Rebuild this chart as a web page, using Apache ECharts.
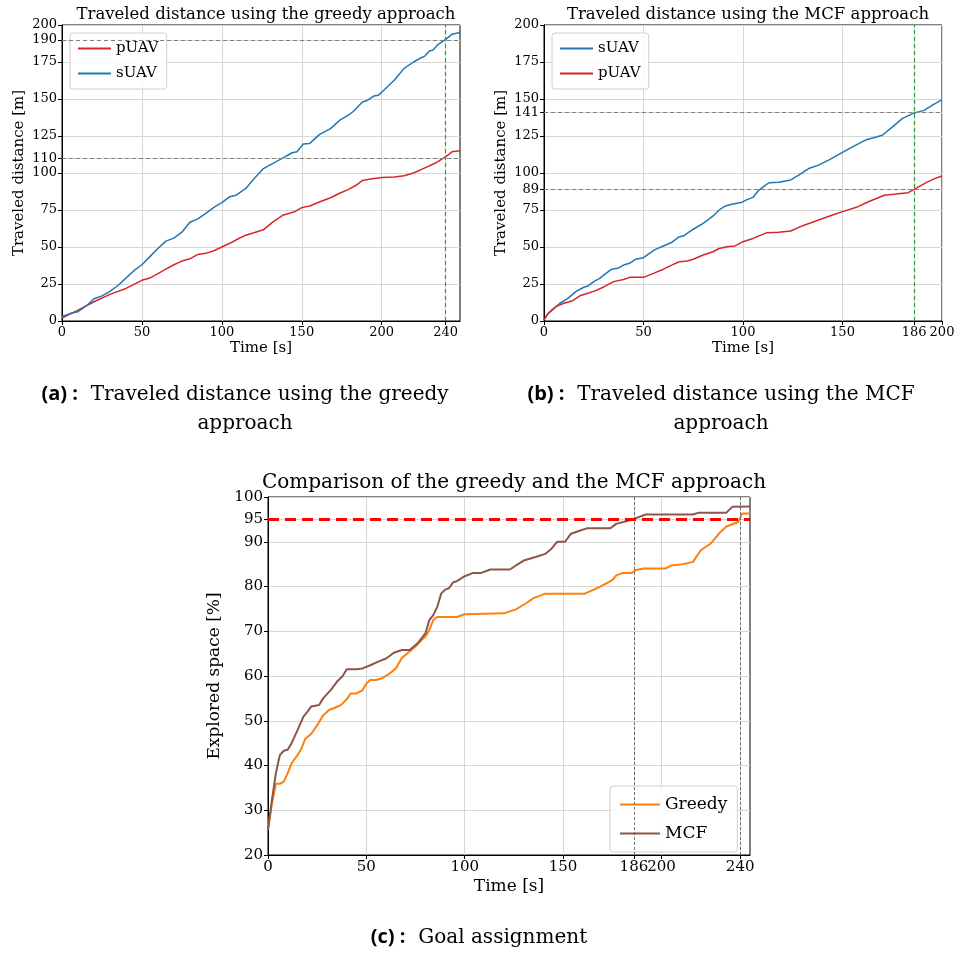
<!DOCTYPE html>
<html>
<head>
<meta charset="utf-8">
<script src="https://cdn.jsdelivr.net/npm/echarts@6/dist/echarts.min.js"></script>
<style>
html,body{margin:0;padding:0;background:#fff;}
#main{width:961px;height:954px;}
</style>
</head>
<body>
<div id="main"></div>
<script>
// (a) greedy approach - traveled distance
var greedyPTime = [0,10,20,30,40,50,55,60,65,70,75,80,85,90,95,100,105,110,115,126,132,138,145,150,155,161,168,174,179,184,188,193,200,208,214,220,226,233,240,244,249];
var greedyPDist = [2,7.4,13,18,22,27.5,29,32,35,38,40.5,42,45,45.7,47.5,50,52.5,55.4,58,61.6,67,71.4,73.6,76.6,77.7,80.4,83.3,86.5,88.8,91.7,95,96,96.9,97.3,98.2,100,103,106.4,110.9,114.3,115];
var greedySTime = [0,5,10,15,20,25,30,35,40,45,50,55,60,65,70,75,80,85,90,95,100,105,109,115,120,126,132,138,144,147,151,155,161,168,174,179,182,188,191,195,198,201,208,214,220,224,227,230,232,235,240,244,249];
var greedySDist = [3,5,6.3,10,15,17,20,24,29,34,38,43.5,49,54,56,60,66.7,69,72.7,76.8,80,84,85,89.6,96,103,106.5,110,113.7,114.4,119.6,120,125.9,130,135.9,139,141.4,148,149,152,152.6,155.6,162.8,170.7,175,177.5,179,182.6,183,186.5,190.3,193.7,195];

// (b) MCF approach - traveled distance
var mcfSTime = [0,2,5,8,12,16,20,22,25,28,30,34,37,40,43,46,50,53,56,60,64,68,70,75,80,85,88,91,95,99,102,105,108,113,118,124,128,133,138,143,150,155,162,167,170,175,180,186,191,195,200];
var mcfSDist = [0.7,5,8.5,12,15.3,19.8,22.8,23.6,26.6,28.8,31,35,35.6,37.8,39,41.7,42.8,45.7,48.4,50.7,53,57,57.4,62,66,71,75,77.7,79,80,82,83.5,88.5,93.4,93.8,95.3,98.5,103,105.3,108.7,113.9,117.7,122.5,124.3,125.5,131,136.7,140.6,142.3,145.7,149.6];
var mcfPTime = [0,2,6,10,14,18,22,26,30,35,40,43,50,55,60,65,68,72,75,80,85,88,92,96,100,105,112,118,124,130,138,145,150,157,163,171,177,183,186,192,196,200];
var mcfPDist = [0.7,5,9.7,12,13.5,17,18.7,20.5,23,26.6,28,29.5,29.5,32.2,35,38.3,40,40.5,41.7,44.6,46.8,49,50.2,50.7,53.6,55.8,59.7,60,60.8,64.4,68.2,71.6,73.9,76.8,80.6,85,85.8,86.7,89,93.5,96,98];

// (c) explored space
var cmpGreedyTime = [0,2,4,6,8,10,12,15,17,19,22,25,28,31,34,37,40,42,45,48,50,52,55,58,62,65,68,72,75,78,80,82,84,86,96,100,120,126,131,135,141,161,167,172,175,177,180,185,187,191,202,205,211,216,220,225,230,233,239,241,245];
var cmpGreedyVal = [25.6,31.5,35.9,35.9,36.4,38.3,40.5,42.3,43.8,46,47.1,49,51.2,52.4,52.9,53.5,54.8,56.1,56.1,56.8,58.3,59.1,59.1,59.5,60.6,61.7,64,65.5,66.6,68,68.8,70.3,72.5,73.2,73.2,73.8,74,74.9,76.2,77.4,78.4,78.4,79.6,80.7,81.4,82.5,83,83,83.7,84,84,84.7,85,85.5,88.1,89.6,92.2,93.4,94.4,96.3,96.3];
var cmpMcfTime = [0,2,4,6,8,10,12,15,18,20,22,26,28,32,35,38,40,45,48,52,56,60,64,68,72,76,80,82,84,86,88,90,92,94,96,100,104,108,113,123,126,130,136,141,144,147,151,154,158,162,174,177,182,186,192,216,219,233,236,245];
var cmpMcfVal = [25.6,32.3,38.3,42.3,43.3,43.5,45,47.9,50.9,52,53.2,53.5,55,56.9,58.7,60,61.5,61.5,61.7,62.4,63.2,63.9,65.2,65.8,65.8,67.3,69.5,72.5,73.6,75.4,78.4,79.3,79.6,80.9,81.2,82.3,83,83,83.8,83.8,84.7,85.8,86.6,87.3,88.4,90,90,91.8,92.4,93,93,94,94.6,95.1,96.1,96.1,96.5,96.5,97.8,97.9];

// tick labels
var ticksYA = [0,25,50,75,100,110,125,150,175,190,200];
var ticksXA = [0,50,100,150,200,240];
var ticksYB = [0,25,50,75,89,100,125,141,150,175,200];
var ticksXB = [0,50,100,150,186,200];
var ticksYC = [20,30,40,50,60,70,80,90,95,100];
var ticksXC = [0,50,100,150,186,200,240];

var serif = 'DejaVu Serif';
var BLUE = '#1f77b4', RED = '#d62728', ORANGE = '#ff7f0e', BROWN = '#8c564b', GREEN = '#2ca02c';

function zip(t, v){
	var out = [];
	for (var i = 0; i < t.length; i++) out.push([t[i], v[i]]);
	return out;
}

function xAx(idx, max, interval, ticks, fs, gap){
	return {
		type: 'value', gridIndex: idx, min: 0, max: max, interval: interval,
		name: 'Time [s]', nameLocation: 'middle', nameGap: gap,
		nameTextStyle: {fontFamily: serif, fontSize: fs + 2, color: '#000'},
		axisLine: {show: true, lineStyle: {color: '#000', width: 1}},
		axisTick: {show: true, length: 4, customValues: ticks, lineStyle: {color: '#000'}},
		axisLabel: {customValues: ticks, fontFamily: serif, fontSize: fs, color: '#000', margin: 5, hideOverlap: false},
		splitLine: {show: true, lineStyle: {color: '#d6d6d6', width: 1}}
	};
}
function yAx(idx, min, max, interval, ticks, name, fs, gap){
	return {
		type: 'value', gridIndex: idx, min: min, max: max, interval: interval,
		name: name, nameLocation: 'middle', nameGap: gap,
		nameTextStyle: {fontFamily: serif, fontSize: fs + 2, color: '#000'},
		axisLine: {show: true, lineStyle: {color: '#000', width: 1}},
		axisTick: {show: true, length: 4, customValues: ticks, lineStyle: {color: '#000'}},
		axisLabel: {customValues: ticks, fontFamily: serif, fontSize: fs, color: '#000', margin: 5},
		splitLine: {show: true, lineStyle: {color: '#d6d6d6', width: 1}}
	};
}
function line(name, data, xi, color, width, marks){
	var s = {
		name: name, type: 'line', xAxisIndex: xi, yAxisIndex: xi,
		data: data, symbol: 'none', smooth: false,
		lineStyle: {color: color, width: width}, itemStyle: {color: color}
	};
	if (marks) {
		s.markLine = {silent: true, symbol: 'none', label: {show: false}, animation: false, data: marks};
	}
	return s;
}
function hLine(v, color, width, type){ return {yAxis: v, lineStyle: {color: color, width: width, type: type}}; }
function vLine(v, color, width, type){ return {xAxis: v, lineStyle: {color: color, width: width, type: type}}; }

var legendBox = {
	orient: 'vertical', borderColor: '#d0d0d0', borderWidth: 1, borderRadius: 3,
	backgroundColor: 'rgba(255,255,255,0.85)', icon: 'rect', itemWidth: 33, itemHeight: 2, itemGap: 10,
	padding: [8, 8, 8, 8]
};
function caption(x, y, label, text){
	return {type: 'text', x: x, y: y, style: {
		text: '{b|' + label + '}{t|  ' + text + '}',
		align: 'center', verticalAlign: 'top', lineHeight: 29,
		rich: {b: {fontFamily: 'Open Sans', fontWeight: 'bold', fontSize: 20, fill: '#000', lineHeight: 29},
			   t: {fontFamily: serif, fontSize: 20, fill: '#000', lineHeight: 29}}
	}};
}

var chart = echarts.init(document.getElementById('main'));
var option = {
	animation: false,
	backgroundColor: '#fff',
	title: [
		{text: 'Traveled distance using the greedy approach', left: 261, top: 1, textAlign: 'center',
		 textStyle: {fontFamily: serif, fontSize: 16.5, fontWeight: 'normal', color: '#000'}},
		{text: 'Traveled distance using the MCF approach', left: 743, top: 1, textAlign: 'center',
		 textStyle: {fontFamily: serif, fontSize: 16.5, fontWeight: 'normal', color: '#000'}},
		{text: 'Comparison of the greedy and the MCF approach', left: 509, top: 468, textAlign: 'center',
		 textStyle: {fontFamily: serif, fontSize: 20, fontWeight: 'normal', color: '#000'}}
	],
	legend: [
		Object.assign({}, legendBox, {left: 70, top: 33, data: ['pUAV', 'sUAV'],
			textStyle: {fontFamily: serif, fontSize: 15, color: '#000'}}),
		Object.assign({}, legendBox, {left: 552, top: 33, data: ['sUAV', 'pUAV'],
			textStyle: {fontFamily: serif, fontSize: 15, color: '#000'}}),
		Object.assign({}, legendBox, {left: 610, top: 786, itemWidth: 40, itemGap: 12, padding: [10, 10, 10, 10],
			data: ['Greedy', 'MCF'], textStyle: {fontFamily: serif, fontSize: 17, color: '#000'}})
	],
	grid: [
		{left: 62, top: 25, width: 398, height: 296, show: true, borderColor: '#000', borderWidth: 1, backgroundColor: '#fff'},
		{left: 544, top: 25, width: 398, height: 296, show: true, borderColor: '#000', borderWidth: 1, backgroundColor: '#fff'},
		{left: 268, top: 497, width: 482, height: 358, show: true, borderColor: '#000', borderWidth: 1, backgroundColor: '#fff'}
	],
	xAxis: [
		xAx(0, 249, 50, ticksXA, 13, 20),
		xAx(1, 200, 50, ticksXB, 13, 20),
		xAx(2, 245, 50, ticksXC, 15, 23)
	],
	yAxis: [
		yAx(0, 0, 200, 25, ticksYA, 'Traveled distance [m]', 13, 35),
		yAx(1, 0, 200, 25, ticksYB, 'Traveled distance [m]', 13, 35),
		yAx(2, 20, 100, 10, ticksYC, 'Explored space [%]', 15, 40)
	],
	series: [
		line('pUAV', zip(greedyPTime, greedyPDist), 0, RED, 1.5, [
			hLine(110, '#808080', 1, [4, 3]), hLine(190, '#808080', 1, [4, 3])
		]),
		line('sUAV', zip(greedySTime, greedySDist), 0, BLUE, 1.5, [
			vLine(240, GREEN, 1.2, [4, 3])
		]),
		line('sUAV', zip(mcfSTime, mcfSDist), 1, BLUE, 1.5, [
			hLine(89, '#808080', 1, [4, 3]), hLine(141, '#808080', 1, [4, 3])
		]),
		line('pUAV', zip(mcfPTime, mcfPDist), 1, RED, 1.5, [
			vLine(186, GREEN, 1.2, [4, 3])
		]),
		line('Greedy', zip(cmpGreedyTime, cmpGreedyVal), 2, ORANGE, 2, [
			vLine(186, '#555', 0.8, [3, 2]), vLine(240, '#555', 0.8, [3, 2])
		]),
		line('MCF', zip(cmpMcfTime, cmpMcfVal), 2, BROWN, 2, [
			hLine(95, '#ff0000', 3, [11, 6])
		])
	],
	graphic: [
		{type: 'text', x: 245, y: 380, style: {
			text: '{b|(a) :}{t|  Traveled distance using the greedy}\n{t|approach}',
			align: 'center', verticalAlign: 'top', lineHeight: 29,
			rich: {b: {fontFamily: 'Open Sans', fontWeight: 'bold', fontSize: 20, fill: '#000', lineHeight: 29},
				   t: {fontFamily: serif, fontSize: 20, fill: '#000', lineHeight: 29}}
		}},
		{type: 'text', x: 721, y: 380, style: {
			text: '{b|(b) :}{t|  Traveled distance using the MCF}\n{t|approach}',
			align: 'center', verticalAlign: 'top', lineHeight: 29,
			rich: {b: {fontFamily: 'Open Sans', fontWeight: 'bold', fontSize: 20, fill: '#000', lineHeight: 29},
				   t: {fontFamily: serif, fontSize: 20, fill: '#000', lineHeight: 29}}
		}},
		caption(479, 923, '(c) :', 'Goal assignment')
	]
};
chart.setOption(option);
</script>
</body>
</html>
